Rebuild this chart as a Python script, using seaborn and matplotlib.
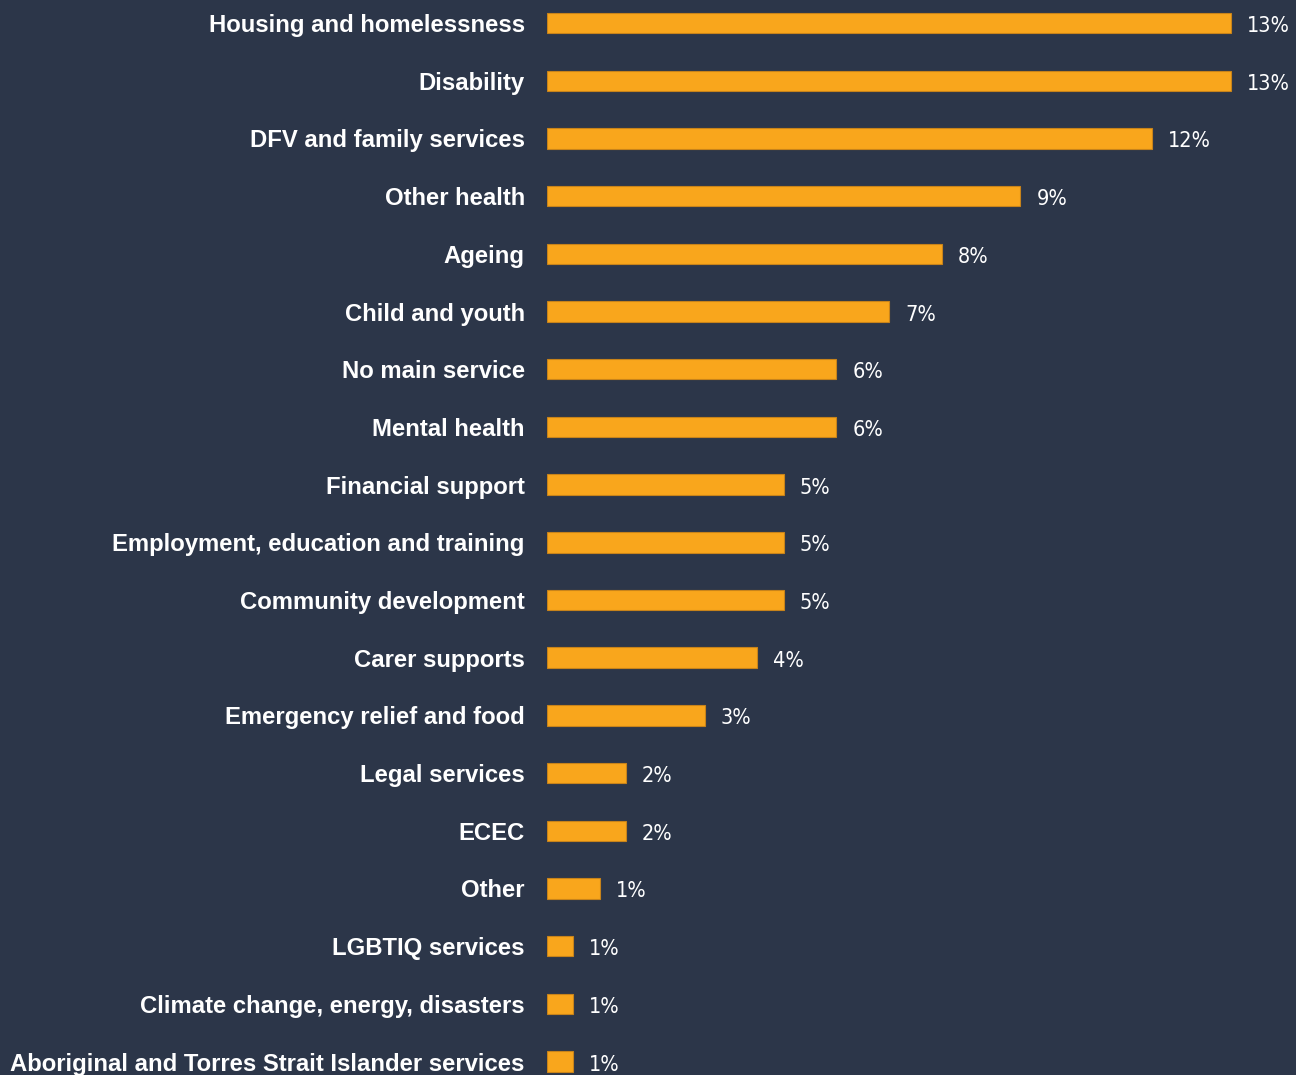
import matplotlib
matplotlib.use("Agg")
import matplotlib.pyplot as plt
import seaborn as sns
import pandas as pd

categories = [
    "Housing and homelessness",
    "Disability",
    "DFV and family services",
    "Other health",
    "Ageing",
    "Child and youth",
    "No main service",
    "Mental health",
    "Financial support",
    "Employment, education and training",
    "Community development",
    "Carer supports",
    "Emergency relief and food",
    "Legal services",
    "ECEC",
    "Other",
    "LGBTIQ services",
    "Climate change, energy, disasters",
    "Aboriginal and Torres Strait Islander services",
]
shares = [13.0, 13.0, 11.5, 9.0, 7.5, 6.5, 5.5, 5.5, 4.5, 4.5, 4.5, 4.0,
          3.0, 1.5, 1.5, 1.0, 0.5, 0.5, 0.5]

BG = "#2C3649"
BAR = "#F9A61C"

df = pd.DataFrame({"category": categories, "share": shares})

sns.set_theme(style="white")
plt.rcParams["font.family"] = ["Liberation Sans", "DejaVu Sans"]

W, H = 1296, 1075
fig = plt.figure(figsize=(W / 100, H / 100), dpi=100, facecolor=BG)

# axes placed so the first row centre sits near the top edge
left_px, right_px = 547, 1296
top_px, bottom_px = -5.8, 1090.4
ax = fig.add_axes([left_px / W, 1 - bottom_px / H,
                   (right_px - left_px) / W, (bottom_px - top_px) / H])
ax.set_facecolor(BG)

sns.barplot(data=df, x="share", y="category", color=BAR, width=0.355,
            edgecolor="#C8831A", linewidth=0.8, saturation=1, ax=ax)

ax.set_xlim(0, (right_px - left_px) / 52.6)
ax.set_ylim(len(categories) - 0.5, -0.5)

for i, v in enumerate(shares):
    ax.annotate(f"{int(v + 0.5)}%", xy=(v, i), xytext=(16, -3),
                textcoords="offset pixels",
                va="center", ha="left", color="white", fontsize=15.5,
                family=["DejaVu Sans"], fontstretch="condensed")

ax.set_xlabel("")
ax.set_ylabel("")
ax.set_xticks([])
ax.tick_params(axis="y", length=0, pad=16)
for lab in ax.get_yticklabels():
    lab.set_color("white")
    lab.set_fontweight("bold")
    lab.set_fontsize(17.2)
    lab.set_family(["Liberation Sans", "DejaVu Sans"])
for s in ax.spines.values():
    s.set_visible(False)

fig.savefig("out.png", dpi=100, facecolor=BG)
